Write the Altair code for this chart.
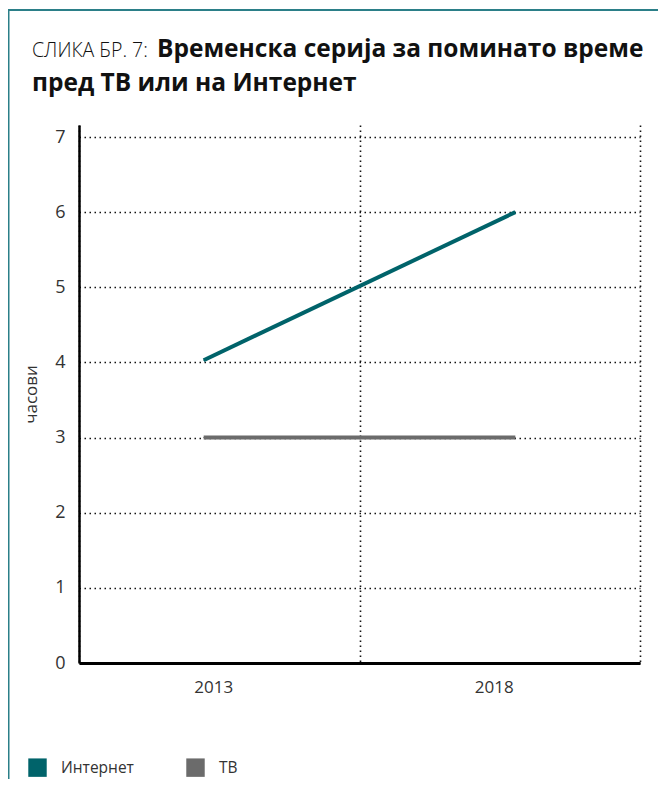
import altair as alt
import pandas as pd

# ---- data ----
years = ["2013", "2018"]
series = ["Интернет", "ТВ"]
internet = [4.03, 6.0]
tv = [3.0, 3.0]
colors = ["#00636a", "#6b6b6b"]
y_ticks = [0, 1, 2, 3, 4, 5, 6, 7]

rows = []
for s, vals in zip(series, [internet, tv]):
    for yr, v in zip(years, vals):
        rows.append({"година": yr, "серија": s, "часови": v})
df = pd.DataFrame(rows)

W, H = 561, 538
FONT = "Open Sans"
GRID_DASH = [1.5, 3.5]

yscale = alt.Scale(domain=[0, 7.16], nice=False, zero=True)
y_axis = alt.Axis(values=y_ticks, title="часови", format="d", grid=True)
y_enc = alt.Y("часови:Q", scale=yscale, axis=y_axis)

# axis/grid layer (band scale, grid at band boundaries)
axis_layer = alt.Chart(df).mark_point(opacity=0).encode(
    x=alt.X(
        "година:N",
        scale=alt.Scale(type="band", paddingInner=0, paddingOuter=0),
        axis=alt.Axis(title=None, tickBand="extent", grid=True, labelOffset=-6,
                      labelAngle=0, domainWidth=3),
    ),
    y=y_enc,
)

xpoint = alt.X("година:O", scale=alt.Scale(type="point", padding=0.4), axis=None)

legend_layer = alt.Chart(df).mark_square(size=1, filled=True).encode(
    x=xpoint,
    y=y_enc,
    color=alt.Color(
        "серија:N", scale=alt.Scale(domain=series, range=colors),
        legend=alt.Legend(
            title=None, orient="none", legendX=-51, legendY=633, padding=0,
            direction="horizontal", symbolType="square", symbolSize=340,
            symbolOpacity=1, symbolStrokeWidth=0, labelFontSize=15.5,
            labelColor="#333333", labelFont=FONT, labelOffset=14,
            columnPadding=52,
        ),
    ),
)

lines = alt.Chart(df).mark_line(strokeWidth=4, strokeCap="butt").encode(
    x=xpoint,
    y=y_enc,
    stroke=alt.Stroke("серија:N", scale=alt.Scale(domain=series, range=colors),
                      legend=None),
    detail="серија:N",
)

one = alt.Data(values=[{"a": 1}])

border_left = alt.Chart(one).mark_rule(color="#2b7f88", strokeWidth=2).encode(
    x=alt.value(-70.5), y=alt.value(-115), y2=alt.value(660)
)
border_top = alt.Chart(one).mark_rule(color="#2b7f88", strokeWidth=2).encode(
    x=alt.value(-71.5), x2=alt.value(600), y=alt.value(-115)
)

title_prefix = alt.Chart(one).mark_text(
    text="СЛИКА БР. 7:", font=FONT, fontSize=19.5, fontWeight=300, align="left",
    baseline="alphabetic", color="#111111",
).encode(x=alt.value(-47), y=alt.value(-68))
title_l1 = alt.Chart(one).mark_text(
    text="Временска серија за поминато време", font=FONT, fontSize=24.5,
    fontWeight="bold", align="left", baseline="alphabetic", color="#111111",
).encode(x=alt.value(78), y=alt.value(-68))
title_l2 = alt.Chart(one).mark_text(
    text="пред ТВ или на Интернет", font=FONT, fontSize=24.5,
    fontWeight="bold", align="left", baseline="alphabetic", color="#111111",
).encode(x=alt.value(-47), y=alt.value(-34))

chart = alt.layer(
    axis_layer, legend_layer, lines,
    border_left, border_top, title_prefix, title_l1, title_l2,
).resolve_scale(x="independent").properties(
    width=W, height=H,
    autosize=alt.AutoSizeParams(type="none"),
    padding={"left": 71, "top": 117, "right": 18, "bottom": 116},
).configure_view(stroke=None).configure_axis(
    gridDash=GRID_DASH, gridColor="#111111", gridWidth=1.6, ticks=False,
    domainColor="#000000", labelFontSize=17, labelColor="#333333",
    labelFont=FONT, titleFont=FONT, titleFontSize=17, titleFontWeight="normal",
    titleColor="#333333",
).configure_axisY(
    domainWidth=2.5, labelPadding=14, titlePadding=14, labelFontSize=18,
).configure_axisX(
    domainWidth=3, labelPadding=16,
)

chart.save("out.html", embed_options={"renderer": "svg", "actions": False})
